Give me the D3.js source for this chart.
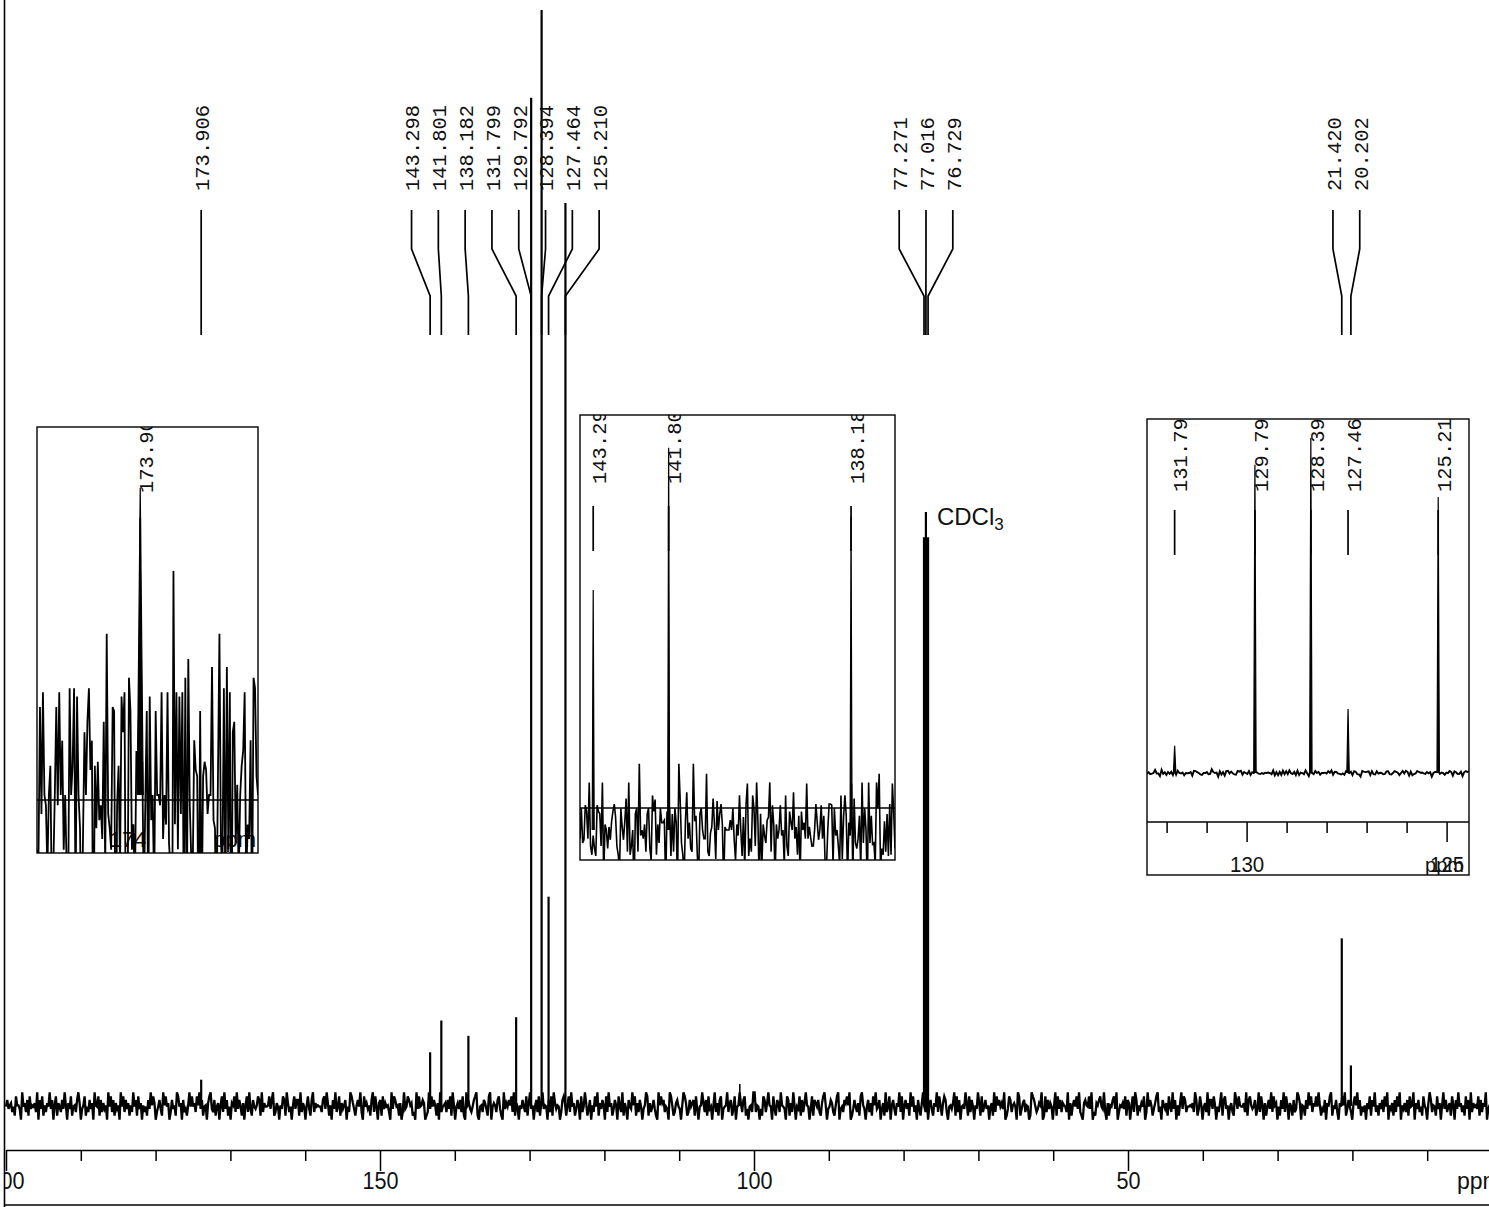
<!DOCTYPE html>
<html>
<head>
<meta charset="utf-8">
<script src="https://cdn.jsdelivr.net/npm/d3@7/dist/d3.min.js"></script>
<style>
html,body{margin:0;padding:0;background:#fff;}
svg{display:block;}
</style>
</head>
<body>
<svg id="chart" width="1489" height="1207"></svg>
<script>
// ---------------- DATA ----------------
const peakPpm    = [173.906, 143.298, 141.801, 138.182, 131.799, 129.792, 128.394, 127.464, 125.210, 77.271, 77.016, 76.729, 21.420, 20.202];
const peakHeight = [2.4, 4.9, 7.8, 6.4, 8.1, 92, 100, 19.1, 82.4, 51.9, 54.2, 51.9, 15.3, 3.7];
const peakLabels = ["173.906","143.298","141.801","138.182","131.799","129.792","128.394","127.464","125.210","77.271","77.016","76.729","21.420","20.202"];
const minorPeakPpm    = [101.9];
const minorPeakHeight = [2.0];
const mainTicks       = [200,190,180,170,160,150,140,130,120,110,100,90,80,70,60,50,40,30,20,10,0];
const mainMajorTicks  = [200,150,100,50,0];
const leftInsetLabels = ["174"];
const leftInsetLabelPpm = [174];
const rightInsetTicks = [132,131,130,129,128,127,126,125];
const rightInsetMajor = [130,125];
const solventLabel = "CDCl";
const solventSub = "3";
const unitLabel = "ppm";
// baseline noise, hand-typed digit samples (0..9 -> -1..+1 noise units)
const noiseDigits =
 "47356241855309462718354629073815264937058164273950" +
 "63814527960358142736095481726350948271635094827361" +
 "52947183605241739586024731958460273519846072315948" +
 "46285937145068932714605829371406582937416058293174" +
 "35871926445837912640538719624058377192640583179264" +
 "54427839615073924816357042986315749208463517928406" +
 "71836452093874516029348756120938457601293847516092" +
 "45627381950463728109563247891045276318904652783109" +
 "36475829164053742816935047281693540728196354027861" +
 "58294613750824961370528491637508294613750842916307" +
 "43958162740359816247310958672430985126743059861274" +
 "67183045962718340592617803459267138045962781304529";
const noise = noiseDigits.split("").map(d => {
  const t = (+d - 4.5) / 4.5;
  return Math.sign(t) * Math.pow(Math.abs(t), 1.4);
});
// inset noise: pairs of the typed samples averaged (less regular heights)
const noiseMixed = noise.map((v, i) => (v + noise[(i + 307) % noise.length]) / 2);

// ---------------- LAYOUT ----------------
const W = 1489, H = 1207;
const svg = d3.select("#chart");
const INK = "#000";
const monoFont = "'Liberation Mono', 'DejaVu Sans Mono', monospace";
const sansFont = "'Liberation Sans', Arial, sans-serif";

const x = d3.scaleLinear().domain([200, 0]).range([6, 1502]);
const y = d3.scaleLinear().domain([0, 100]).range([1106, 10]);

const defs = svg.append("defs");
defs.append("clipPath").attr("id", "plotClip").append("rect")
  .attr("x", 5).attr("y", 0).attr("width", W - 5).attr("height", H);

const plot = svg.append("g").attr("clip-path", "url(#plotClip)");

// main trace: noise baseline (samples used forward then backward for density)
const noiseAmp = 1.25;
const mainNoise = noise.concat(noise.slice().reverse());
const mainTrace = mainNoise.map((v, i) => [200 - i * 200 / (mainNoise.length - 1), v * noiseAmp]);
const line = d3.line().x(d => x(d[0])).y(d => y(d[1]));
plot.append("path").datum(mainTrace)
  .attr("d", line).attr("fill", "none").attr("stroke", INK).attr("stroke-width", 2.3);

// main peaks (sticks)
const peaks = peakPpm.map((p, i) => ({ppm: p, h: peakHeight[i], label: peakLabels[i]}));
plot.selectAll("path.peak").data(peaks).join("path").attr("class", "peak")
  .attr("d", d => line([[d.ppm, 0], [d.ppm, d.h]]))
  .attr("fill", "none").attr("stroke", INK).attr("stroke-width", 2.2);
plot.selectAll("path.minor").data(minorPeakPpm).join("path").attr("class", "minor")
  .attr("d", (d, i) => line([[d, 0], [d, minorPeakHeight[i]]]))
  .attr("fill", "none").attr("stroke", INK).attr("stroke-width", 1.6);

// ---------------- TOP PEAK LABELS ----------------
const labelSpacing = 26.8;
const items = peaks.map((d, i) => ({i, px: x(d.ppm), d})).sort((a, b) => a.px - b.px);
let blocks = items.map(it => ({items: [it]}));
const blockPos = b => {
  const c = d3.mean(b.items, d => d.px), n = b.items.length;
  return b.items.map((d, k) => c + (k - (n - 1) / 2) * labelSpacing);
};
let merged = true;
while (merged) {
  merged = false;
  for (let k = 0; k < blocks.length - 1; k++) {
    const a = blockPos(blocks[k]), b = blockPos(blocks[k + 1]);
    if (a[a.length - 1] + labelSpacing > b[0]) {
      blocks[k].items = blocks[k].items.concat(blocks[k + 1].items);
      blocks.splice(k + 1, 1);
      merged = true;
      break;
    }
  }
}
blocks.forEach(b => { const ps = blockPos(b); b.items.forEach((it, k) => it.lx = ps[k]); });

const conY = [210, 249, 296, 335];
const topG = plot.append("g");
topG.selectAll("path.con").data(items).join("path").attr("class", "con")
  .attr("d", it => d3.line()([[it.lx, conY[0]], [it.lx, conY[1]], [it.px, conY[2]], [it.px, conY[3]]]))
  .attr("fill", "none").attr("stroke", INK).attr("stroke-width", 1.7);
const capHalf = 6.8;
topG.selectAll("text.lab").data(items).join("text").attr("class", "lab")
  .attr("transform", it => `translate(${it.lx + 1 + capHalf},191) rotate(-90)`)
  .attr("font-family", monoFont).attr("font-size", 20.5).attr("fill", "#111")
  .text(it => it.d.label);

// solvent label
const solv = plot.append("text")
  .attr("x", x(77.016) + 11).attr("y", 525)
  .attr("font-family", sansFont).attr("font-size", 24).attr("fill", "#111")
  .text(solventLabel);
solv.append("tspan").attr("font-size", 17).attr("dy", 5).text(solventSub);

// ---------------- INSETS ----------------
const insets = [
  {id: "inA", box: [37, 427, 258, 853], domain: [174.7, 173.0], base: 795, refY: 800, ppu: 128, ns: [0, 150], amp: 1.75, hw: 3, sw: 1.8, labY: 66},
  {id: "inB", box: [580, 415, 895, 860], domain: [143.56, 137.31], base: 830, refY: 808, ppu: 49, ns: [150, 390], amp: 1.35, hw: 1, sw: 1.6, labY: 69},
  {id: "inC", box: [1147, 419, 1469, 875], domain: [132.49, 124.44], base: 773, refY: null, ppu: 3.35, ns: [390, 590], amp: 1.1, hw: 1.2, sw: 1.9, labY: 73}
];

insets.forEach(c => {
  const [x0, y0, x1, y1] = c.box;
  const xi = d3.scaleLinear().domain(c.domain).range([x0, x1]);
  const yi = d3.scaleLinear().domain([0, 1]).range([c.base, c.base - c.ppu]);
  const g = svg.append("g");
  defs.append("clipPath").attr("id", c.id).append("rect")
    .attr("x", x0).attr("y", y0).attr("width", x1 - x0).attr("height", y1 - y0);
  g.append("rect").attr("x", x0).attr("y", y0).attr("width", x1 - x0).attr("height", y1 - y0)
    .attr("fill", "#fff");
  const gc = g.append("g").attr("clip-path", `url(#${c.id})`);

  const ns = noiseMixed.slice(c.ns[0], c.ns[1]);
  const trace = ns.map((v, i) => [c.domain[0] + i * (c.domain[1] - c.domain[0]) / (ns.length - 1), v * c.amp]);
  const li = d3.line().x(d => xi(d[0])).y(d => yi(d[1]));

  if (c.refY !== null) {
    gc.append("line").attr("x1", x0).attr("x2", x1).attr("y1", c.refY).attr("y2", c.refY)
      .attr("stroke", INK).attr("stroke-width", 1.4);
  }
  if (c.id === "inA") {
    gc.selectAll("text.tl").data(leftInsetLabels).join("text").attr("class", "tl")
      .attr("x", (d, i) => xi(leftInsetLabelPpm[i])).attr("y", 847)
      .attr("text-anchor", "middle").attr("font-family", sansFont).attr("font-size", 22).attr("fill", "#111")
      .text(d => d);
    gc.append("text").attr("x", x1 - 2).attr("y", 847).attr("text-anchor", "end")
      .attr("font-family", sansFont).attr("font-size", 22).attr("fill", "#111").text(unitLabel);
  }

  gc.append("path").datum(trace).attr("d", li).attr("fill", "none")
    .attr("stroke", INK).attr("stroke-width", c.sw);

  const inPeaks = peaks.filter(d => d.ppm <= c.domain[0] && d.ppm >= c.domain[1]);
  gc.selectAll("path.pk").data(inPeaks).join("path").attr("class", "pk")
    .attr("d", d => {
      const p = d3.path(), px = xi(d.ppm);
      p.moveTo(px - c.hw, yi(0)); p.lineTo(px, yi(d.h)); p.lineTo(px + c.hw, yi(0));
      return p.toString();
    })
    .attr("fill", INK).attr("stroke", INK).attr("stroke-width", 1.2).attr("stroke-linejoin", "miter");
  gc.selectAll("line.tk").data(inPeaks).join("line").attr("class", "tk")
    .attr("x1", d => xi(d.ppm)).attr("x2", d => xi(d.ppm))
    .attr("y1", y0 + 91).attr("y2", y0 + 136)
    .attr("stroke", INK).attr("stroke-width", 1.7);
  gc.selectAll("text.pl").data(inPeaks).join("text").attr("class", "pl")
    .attr("transform", d => `translate(${xi(d.ppm) + 6 + capHalf},${y0 + c.labY}) rotate(-90)`)
    .attr("font-family", monoFont).attr("font-size", 20.5).attr("fill", "#111")
    .text(d => d.label);

  if (c.id === "inC") {
    const ay = 822;
    const ax = d3.axisBottom(xi).tickValues(rightInsetTicks).tickSizeInner(11).tickSizeOuter(0)
      .tickFormat(d => rightInsetMajor.includes(d) ? String(d) : "");
    const ag = gc.append("g").attr("transform", `translate(0,${ay})`).call(ax);
    ag.select(".domain").remove();
    ag.append("line").attr("x1", x0).attr("x2", x1).attr("stroke", INK).attr("stroke-width", 1.5);
    ag.selectAll(".tick line").attr("stroke", INK).attr("stroke-width", 1.5)
      .attr("y2", d => rightInsetMajor.includes(d) ? 20 : 11);
    ag.selectAll(".tick text").attr("y", 50).attr("dy", 0)
      .attr("font-family", sansFont).attr("font-size", 22).attr("fill", "#111")
      .attr("transform", "scale(0.93,1)");
    gc.append("text").attr("x", x1 - 5).attr("y", 872).attr("text-anchor", "end")
      .attr("font-family", sansFont).attr("font-size", 20).attr("fill", "#111").text(unitLabel);
  }

  g.append("rect").attr("x", x0).attr("y", y0).attr("width", x1 - x0).attr("height", y1 - y0)
    .attr("fill", "none").attr("stroke", INK).attr("stroke-width", 1.4);
});

// ---------------- MAIN AXIS ----------------
const axisY = 1150;
const axis = d3.axisBottom(x).tickValues(mainTicks).tickSizeInner(11).tickSizeOuter(0)
  .tickFormat(d => mainMajorTicks.includes(d) ? String(d) : "");
const axG = plot.append("g").attr("transform", `translate(0,${axisY})`).call(axis);
axG.select(".domain").attr("stroke", INK).attr("stroke-width", 1.6);
axG.selectAll(".tick line").attr("stroke", INK).attr("stroke-width", 1.5)
  .attr("y2", d => mainMajorTicks.includes(d) ? 21 : 11);
axG.selectAll(".tick text").attr("y", 39).attr("dy", 0)
  .attr("font-family", sansFont).attr("font-size", 23).attr("fill", "#111")
  .attr("transform", "scale(0.94,1)");
plot.append("text").attr("x", 1457).attr("y", axisY + 39)
  .attr("font-family", sansFont).attr("font-size", 23).attr("fill", "#111").text(unitLabel);

// frame
svg.append("line").attr("x1", 4.5).attr("x2", 4.5).attr("y1", 0).attr("y2", H)
  .attr("stroke", INK).attr("stroke-width", 1.6);
svg.append("line").attr("x1", 4.5).attr("x2", W).attr("y1", 1205).attr("y2", 1205)
  .attr("stroke", INK).attr("stroke-width", 1.6);
</script>
</body>
</html>
